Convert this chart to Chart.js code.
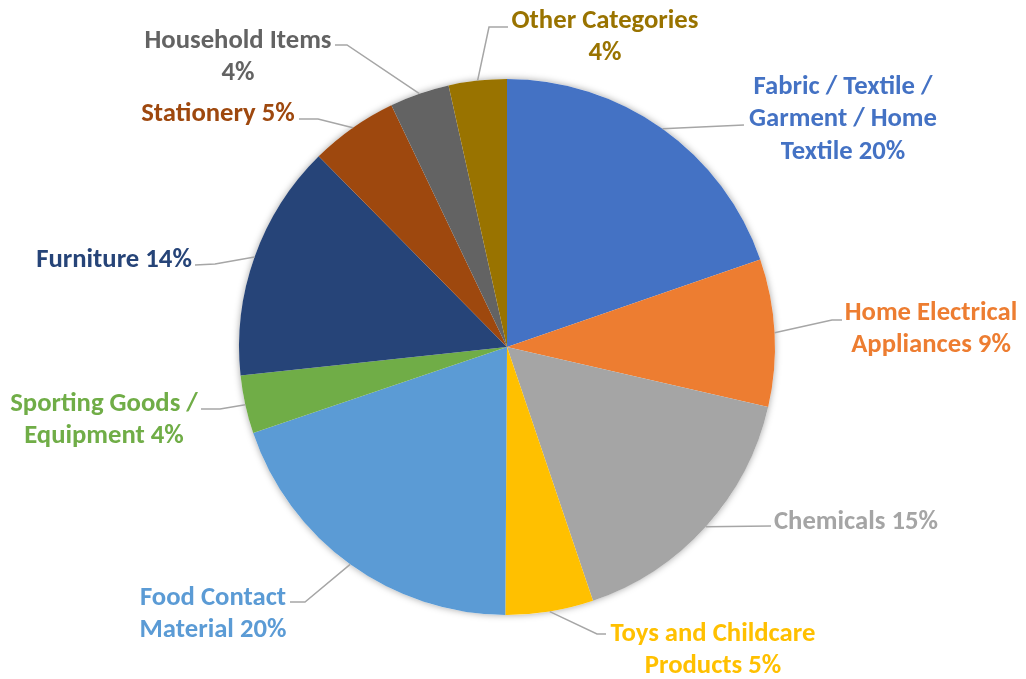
<!DOCTYPE html>
<html>
<head>
<meta charset="utf-8">
<script src="https://cdn.jsdelivr.net/npm/chart.js@4"></script>
<style>
    body { margin: 0; background: #ffffff; }
    #wrap { width: 1026px; height: 679px; }
</style>
</head>
<body>
<div id="wrap"><canvas id="pieChart" width="1026" height="679"></canvas></div>
<script>
const categories = ['Fabric / Textile / Garment / Home Textile', 'Home Electrical Appliances', 'Chemicals',
    'Toys and Childcare Products', 'Food Contact Material', 'Sporting Goods / Equipment', 'Furniture',
    'Stationery', 'Household Items', 'Other Categories'];
const shares = [19.7, 8.9, 16.2, 5.3, 19.7, 3.5, 14.3, 5.3, 3.6, 3.5];
const pctLabels = ['20%', '9%', '15%', '5%', '20%', '4%', '14%', '5%', '4%', '4%'];

const colors = ['#4472C4', '#ED7D31', '#A5A5A5', '#FFC000', '#5B9BD5', '#70AD47', '#264478', '#9E480E', '#636363', '#997300'];

// How each label wraps, as in the original
const labelLines = [
    ['Fabric / Textile /', 'Garment / Home', 'Textile ' + pctLabels[0]],
    ['Home Electrical', 'Appliances ' + pctLabels[1]],
    ['Chemicals ' + pctLabels[2]],
    ['Toys and Childcare', 'Products ' + pctLabels[3]],
    ['Food Contact', 'Material ' + pctLabels[4]],
    ['Sporting Goods /', 'Equipment ' + pctLabels[5]],
    ['Furniture ' + pctLabels[6]],
    ['Stationery ' + pctLabels[7]],
    ['Household Items', pctLabels[8]],
    ['Other Categories', pctLabels[9]]
];

// label placement, offsets from the pie centre: text centre, leader elbow, leader end
const labelPos = [
    { tx: 336, ty: -262, end: [237, -222] },
    { tx: 424, ty: -36, elbow: [325, -27], end: [335, -27] },
    { tx: 349, ty: 173, end: [264, 179] },
    { tx: 206, ty: 285, elbow: [90, 287], end: [99, 287] },
    { tx: -294, ty: 249, elbow: [-202, 255], end: [-217, 255] },
    { tx: -403, ty: 55, elbow: [-287, 62], end: [-306, 62] },
    { tx: -393, ty: -89, elbow: [-292, -83], end: [-312, -82] },
    { tx: -289, ty: -235, elbow: [-189, -228], end: [-208, -228] },
    { tx: -269, ty: -308, elbow: [-160, -302], end: [-172, -302] },
    { tx: 98, ty: -328, elbow: [-18, -320], end: [1, -320] }
];

const fontSize = 26.7;
const lineGap = 32.5;
const textNudgeY = 2;

// soft shadow under the whole pie
const pieShadow = {
    id: 'pieShadow',
    beforeDatasetsDraw(chart) {
        const arc = chart.getDatasetMeta(0).data[0];
        if (!arc) return;
        const ctx = chart.ctx;
        ctx.save();
        ctx.shadowColor = 'rgba(0,0,0,0.35)';
        ctx.shadowBlur = 7;
        ctx.fillStyle = '#ffffff';
        ctx.beginPath();
        ctx.arc(arc.x, arc.y, arc.outerRadius, 0, Math.PI * 2);
        ctx.fill();
        ctx.restore();
    }
};

const leaderLabels = {
    id: 'leaderLabels',
    afterDatasetsDraw(chart) {
        const ctx = chart.ctx;
        const arcs = chart.getDatasetMeta(0).data;
        arcs.forEach((arc, i) => {
            const p = labelPos[i];
            const cx = arc.x, cy = arc.y;
            const mid = (arc.startAngle + arc.endAngle) / 2;
            const sx = cx + Math.cos(mid) * arc.outerRadius;
            const sy = cy + Math.sin(mid) * arc.outerRadius;

            ctx.save();
            ctx.strokeStyle = '#A6A6A6';
            ctx.lineWidth = 1.5;
            ctx.beginPath();
            ctx.moveTo(sx, sy);
            if (p.elbow) ctx.lineTo(cx + p.elbow[0], cy + p.elbow[1]);
            ctx.lineTo(cx + p.end[0], cy + p.end[1]);
            ctx.stroke();

            ctx.fillStyle = colors[i];
            ctx.font = 'bold ' + fontSize + 'px Carlito, Lato, sans-serif';
            ctx.textAlign = 'center';
            ctx.textBaseline = 'middle';
            labelLines[i].forEach((line, j) => {
                ctx.fillText(line, cx + p.tx, cy + p.ty + textNudgeY + j * lineGap);
            });
            ctx.restore();
        });
    }
};

function renderPieChart() {
    const ctx = document.getElementById('pieChart').getContext('2d');
    new Chart(ctx, {
        type: 'pie',
        data: {
            labels: categories,
            datasets: [{
                data: shares,
                backgroundColor: colors,
                borderWidth: 0
            }]
        },
        options: {
            responsive: false,
            animation: false,
            layout: { padding: { left: 239, right: 251, top: 79, bottom: 64 } },
            plugins: {
                legend: { display: false },
                tooltip: { enabled: false }
            }
        },
        plugins: [pieShadow, leaderLabels]
    });
}

renderPieChart();
</script>
</body>
</html>
